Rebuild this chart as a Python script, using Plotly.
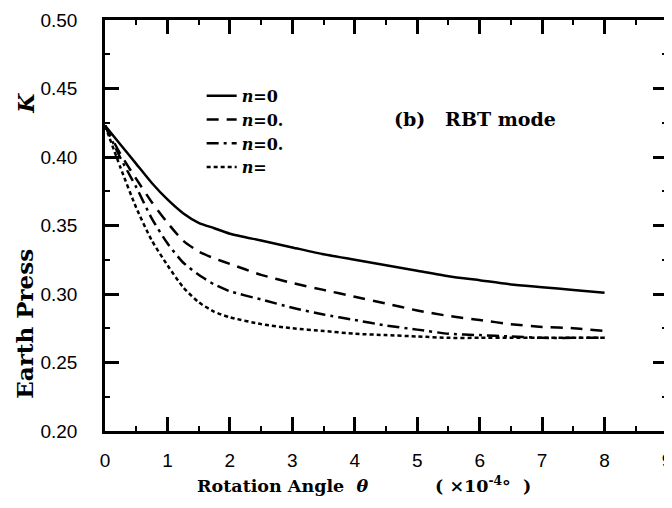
import plotly.graph_objects as go

theta = [0, 0.25, 0.5, 0.75, 1, 1.25, 1.5, 1.75, 2, 2.5, 3, 3.5, 4, 4.5, 5, 5.5, 6, 6.5, 7, 7.5, 8]
k_n0 = [0.423, 0.409, 0.395, 0.381, 0.369, 0.359, 0.352, 0.348, 0.344, 0.339, 0.334, 0.329, 0.325,
        0.321, 0.317, 0.313, 0.310, 0.307, 0.305, 0.303, 0.301]
k_n1 = [0.423, 0.402, 0.384, 0.367, 0.352, 0.339, 0.331, 0.326, 0.322, 0.314, 0.308, 0.303, 0.298,
        0.293, 0.288, 0.284, 0.281, 0.278, 0.276, 0.275, 0.273]
k_n2 = [0.423, 0.399, 0.378, 0.355, 0.337, 0.323, 0.314, 0.307, 0.302, 0.296, 0.290, 0.285, 0.281,
        0.277, 0.274, 0.271, 0.270, 0.269, 0.268, 0.268, 0.268]
k_n3 = [0.423, 0.392, 0.363, 0.339, 0.321, 0.305, 0.294, 0.287, 0.283, 0.278, 0.275, 0.273, 0.271,
        0.270, 0.269, 0.268, 0.268, 0.268, 0.268, 0.268, 0.268]

names = ["<b><i>n</i>=0</b>", "<b><i>n</i>=0.</b>", "<b><i>n</i>=0.</b>", "<b><i>n</i>=</b>"]
series = [k_n0, k_n1, k_n2, k_n3]
dashes = ["solid", "12px,8px", "12px,5px,3px,5px", "4px,3px"]
x_ticks = [0, 1, 2, 3, 4, 5, 6, 7, 8, 9]
y_ticks = [0.20, 0.25, 0.30, 0.35, 0.40, 0.45, 0.50]

fig = go.Figure()
for nm, ys, ds in zip(names, series, dashes):
    fig.add_trace(go.Scatter(x=theta, y=ys, mode="lines", name=nm,
                             line=dict(color="black", width=2.5, dash=ds, shape="spline", smoothing=0.6)))

axis_common = dict(showline=True, linecolor="black", linewidth=2.5, mirror="allticks",
                   ticks="inside", tickcolor="black", tickwidth=2.5, ticklen=14,
                   showgrid=False, zeroline=False, ticklabeloverflow="allow",
                   tickfont=dict(family="Liberation Sans, Arial", size=19, color="black"))

fig.update_xaxes(range=[0, 9], tickvals=x_ticks, ticktext=[str(v) for v in x_ticks],
                 minor=dict(ticks="inside", dtick=0.5, ticklen=5, tickwidth=2, tickcolor="black"),
                 ticklabelstandoff=10, **axis_common)
fig.update_yaxes(range=[0.20, 0.50], tickvals=y_ticks, ticktext=[f"{v:.2f}" for v in y_ticks],
                 minor=dict(ticks="inside", dtick=0.025, ticklen=5, tickwidth=2, tickcolor="black"),
                 ticklabelstandoff=21, **axis_common)

serif = "DejaVu Serif, serif"
fig.add_annotation(x=4.59, y=0.4277, xref="x", yref="y", xanchor="left", yanchor="middle",
                   text="<b>(b)\u00a0\u00a0 RBT mode</b>", showarrow=False,
                   font=dict(family=serif, size=19, color="black"))
fig.add_annotation(x=0.16, y=-0.13, xref="paper", yref="paper", xanchor="left",
                   yanchor="middle", showarrow=False,
                   text="<b>Rotation Angle  <i>θ</i>\u00a0\u00a0\u00a0\u00a0\u00a0\u00a0\u00a0\u00a0\u00a0\u00a0\u00a0( ×10<sup>-4</sup>°\u00a0\u00a0)</b>",
                   font=dict(family=serif, size=17.5, color="black"))
fig.add_annotation(x=-0.141, y=0.798, xref="paper", yref="paper", xanchor="center", yanchor="middle",
                   text="<b><i>K</i></b>", textangle=-90, showarrow=False,
                   font=dict(family=serif, size=22, color="black"))
fig.add_annotation(x=-0.143, y=0.26, xref="paper", yref="paper", xanchor="center", yanchor="middle",
                   text="<b>Earth Press</b>", textangle=-90, showarrow=False,
                   font=dict(family=serif, size=23, color="black"))

fig.update_layout(width=666, height=500, margin=dict(l=97, r=2, t=8, b=77),
                  paper_bgcolor="white", plot_bgcolor="white",
                  legend=dict(x=0.172, y=0.857, xanchor="left", yanchor="top", bgcolor="rgba(0,0,0,0)",
                              font=dict(family=serif, size=16, color="black"), tracegroupgap=0),
                  showlegend=True)

fig.write_html("out.html")
